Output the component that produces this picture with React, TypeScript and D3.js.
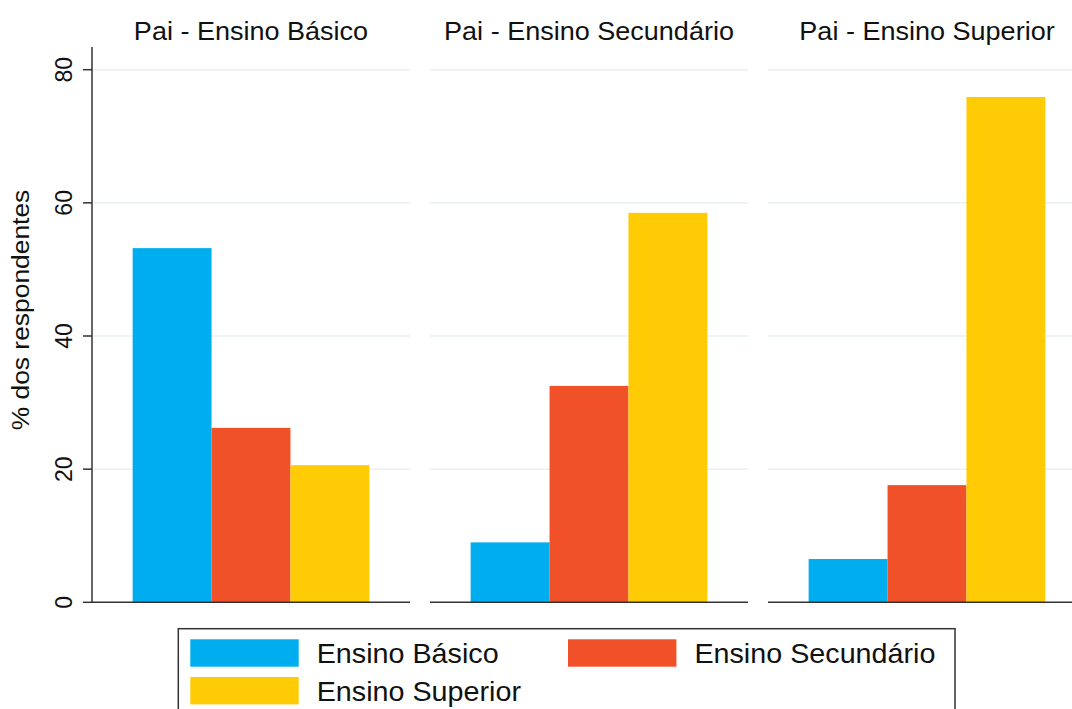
import React from "react";
import * as d3 from "d3";

// Panels (father's education) and the respondent's education categories
const panels = ["Pai - Ensino Básico", "Pai - Ensino Secundário", "Pai - Ensino Superior"];
const categories = ["Ensino Básico", "Ensino Secundário", "Ensino Superior"];
// % of respondents, one row per panel, one value per category
const basico = [53.2, 26.2, 20.6];
const secundario = [9.0, 32.5, 58.5];
const superior = [6.5, 17.6, 75.9];
const yTicks = [0, 20, 40, 60, 80];

const colors = ["#00aeef", "#f15129", "#ffcb05"];
const FONT = "'Liberation Sans', Arial, sans-serif";

const W = 1072;
const H = 709;

export default function App() {
  const values = [basico, secundario, superior];

  const y = d3.scaleLinear().domain([0, 80]).range([602.3, 69.7]);
  const px = d3
    .scaleBand<string>()
    .domain(panels)
    .range([92, 1086])
    .paddingInner(1 - 318 / 338)
    .paddingOuter(0);
  const bx = d3
    .scaleBand<string>()
    .domain(categories)
    .range([0, px.bandwidth()])
    .paddingInner(0)
    .paddingOuter(0.515);

  const axisX = px(panels[0])!;

  return (
    <svg
      width={W}
      height={H}
      style={{ position: "absolute", left: 0, top: 0, background: "#fff" }}
      fontFamily={FONT}
    >
      <rect width={W} height={H} fill="#fff" />

      {panels.map((p, pi) => {
        const x0 = px(p)!;
        const x1 = x0 + px.bandwidth();
        return (
          <g key={p}>
            {/* grid */}
            {yTicks
              .filter((t) => t > 0)
              .map((t) => (
                <line key={t} x1={x0} x2={x1} y1={y(t)} y2={y(t)} stroke="#eaf0f3" strokeWidth={1.5} />
              ))}
            {/* bars */}
            {categories.map((c, ci) => (
              <rect
                key={c}
                x={x0 + bx(c)!}
                y={y(values[pi][ci])}
                width={bx.bandwidth()}
                height={y(0) - y(values[pi][ci])}
                fill={colors[ci]}
              />
            ))}
            {/* baseline */}
            <line x1={x0} x2={x1} y1={y(0)} y2={y(0)} stroke="#333" strokeWidth={1.5} />
            {/* title */}
            <text
              transform={`translate(${(x0 + x1) / 2},40) scale(1.06,1)`}
              textAnchor="middle"
              fontSize={25.5}
              fill="#111"
            >
              {p}
            </text>
          </g>
        );
      })}

      {/* y axis */}
      <line x1={axisX} x2={axisX} y1={47} y2={y(0) + 0.75} stroke="#333" strokeWidth={1.5} />
      {yTicks.map((t) => (
        <g key={t}>
          <line x1={axisX - 9} x2={axisX} y1={y(t)} y2={y(t)} stroke="#333" strokeWidth={1.5} />
          <text
            transform={`translate(72,${y(t)}) rotate(-90)`}
            textAnchor="middle"
            fontSize={23}
            fill="#111"
          >
            {t}
          </text>
        </g>
      ))}
      <text
        transform={`translate(29,310) rotate(-90) scale(1.1,1)`}
        textAnchor="middle"
        fontSize={24}
        fill="#111"
      >
        % dos respondentes
      </text>

      {/* legend */}
      <rect x={178.3} y={628.7} width={776.7} height={100} fill="#fff" stroke="#333" strokeWidth={1.5} />
      {categories.map((c, ci) => {
        const col = ci === 1 ? 1 : 0;
        const row = ci === 2 ? 1 : 0;
        const sx = col === 0 ? 190.3 : 568;
        const sy = 639.3 + row * 37.7;
        return (
          <g key={c}>
            <rect x={sx} y={sy} width={108.4} height={27.4} fill={colors[ci]} />
            <text
              transform={`translate(${sx + 126.4},${sy + 24}) scale(1.064,1)`}
              fontSize={27}
              fill="#111"
            >
              {c}
            </text>
          </g>
        );
      })}
    </svg>
  );
}
